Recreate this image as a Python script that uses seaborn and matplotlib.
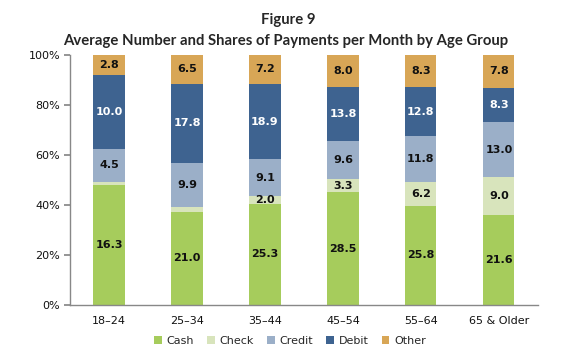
import numpy as np
import pandas as pd
import matplotlib
matplotlib.use("Agg")
import matplotlib.pyplot as plt
import seaborn as sns
from matplotlib.patches import Patch

# data (average number of payments per month)
groups = ["18–24", "25–34", "35–44", "45–54", "55–64", "65 & Older"]
cash = [16.3, 21.0, 25.3, 28.5, 25.8, 21.6]
check = [0.5, 1.2, 2.0, 3.3, 6.2, 9.0]
credit = [4.5, 9.9, 9.1, 9.6, 11.8, 13.0]
debit = [10.0, 17.8, 18.9, 13.8, 12.8, 8.3]
other = [2.8, 6.5, 7.2, 8.0, 8.3, 7.8]

methods = ["Cash", "Check", "Credit", "Debit", "Other"]
colors = ["#A6CC5C", "#D8E4BC", "#9BAFC8", "#3E6390", "#D8A656"]
label_colors = ["#111111", "#111111", "#111111", "white", "#111111"]
show_check = [False, False, True, True, True, True]

sns.set_theme(style="white")
plt.rcParams["font.family"] = ["DejaVu Sans"]
plt.rcParams["font.sans-serif"] = ["DejaVu Sans"]

counts = pd.DataFrame({"Cash": cash, "Check": check, "Credit": credit,
                       "Debit": debit, "Other": other}, index=groups)
shares = counts.div(counts.sum(axis=1), axis=0) * 100
cum = shares.cumsum(axis=1)

fig = plt.figure(figsize=(5.74, 3.61), dpi=100)
ax = fig.add_axes([0.122, 0.155, 0.815, 0.693])

# draw cumulative layers from the top down so each one covers the next
for m, c in zip(reversed(methods), reversed(colors)):
    sns.barplot(x=groups, y=cum[m].values, color=c, width=0.4,
                saturation=1, ax=ax, edgecolor="none", linewidth=0)

for i, g in enumerate(groups):
    for m, tc in zip(methods, label_colors):
        if m == "Check" and not show_check[i]:
            continue
        mid = cum.loc[g, m] - shares.loc[g, m] / 2
        ax.text(i, mid, f"{counts.loc[g, m]:.1f}", ha="center", va="center",
                fontsize=8, fontweight="bold", color=tc, family="DejaVu Sans")

ax.set_ylim(0, 100)
ax.set_xlim(-0.5, len(groups) - 0.5)
ax.set_yticks(np.arange(0, 101, 20))
ax.set_yticklabels([f"{v}%" for v in range(0, 101, 20)], fontsize=8, color="#111111",
                   family="DejaVu Sans")
ax.set_xticks(range(len(groups)))
ax.set_xticklabels(groups, fontsize=8, color="#111111", family="DejaVu Sans")
ax.set_xticks(np.arange(-0.5, len(groups), 1), minor=True)
ax.tick_params(axis="x", which="major", length=0, pad=8)
ax.tick_params(axis="x", which="minor", length=4, color="#888888", direction="out")
ax.tick_params(axis="y", length=4, color="#888888", direction="out", left=True, pad=3)
for s in ["top", "right"]:
    ax.spines[s].set_visible(False)
for s in ["left", "bottom"]:
    ax.spines[s].set_color("#888888")
    ax.spines[s].set_linewidth(1)

fig.text(0.502, 0.945, "Figure 9", ha="center", va="center",
         fontsize=10.7, fontweight="bold", family="Lato")
fig.text(0.498, 0.887, "Average Number and Shares of Payments per Month by Age Group",
         ha="center", va="center", fontsize=10.7, fontweight="bold", family="Lato")

handles = [Patch(facecolor=c, edgecolor="none", label=m) for m, c in zip(methods, colors)]
fig.legend(handles=handles, loc="center", bbox_to_anchor=(0.505, 0.055), ncol=5,
           frameon=False, prop={"family": "DejaVu Sans", "size": 8},
           handlelength=0.7, handleheight=0.7, handletextpad=0.4, columnspacing=1.2)

fig.savefig("out.png", dpi=100)
